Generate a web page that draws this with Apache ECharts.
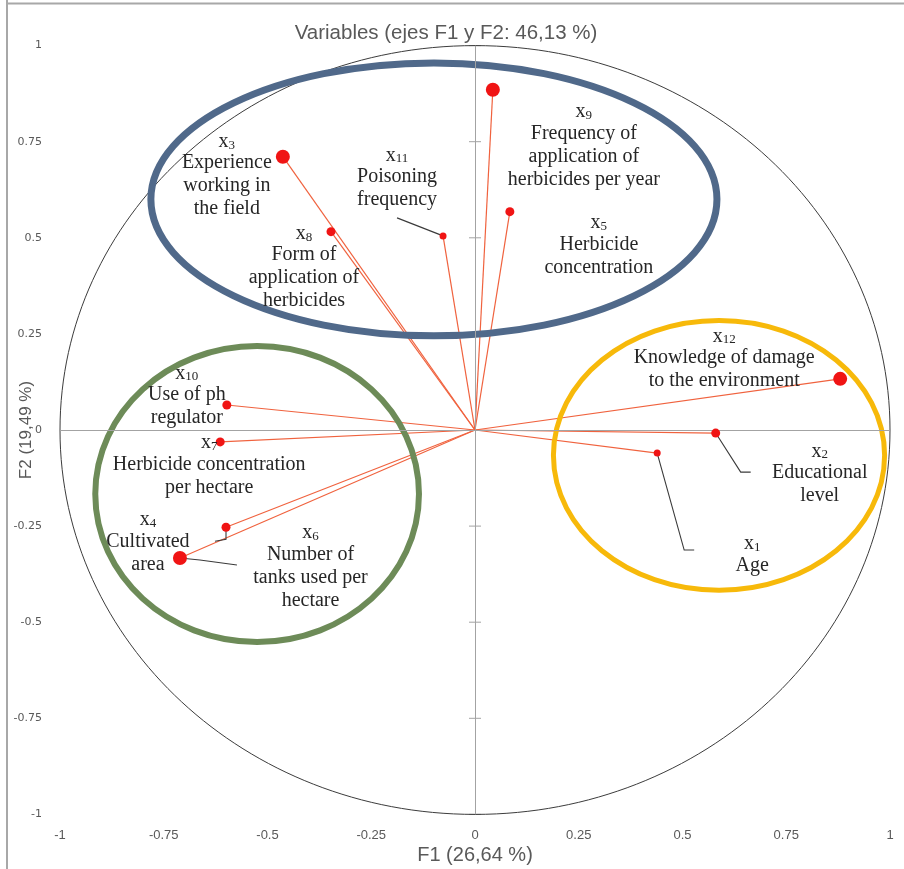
<!DOCTYPE html>
<html>
<head>
<meta charset="utf-8">
<script src="https://cdn.jsdelivr.net/npm/echarts@6/dist/echarts.min.js"></script>
<style>
  html, body { margin: 0; padding: 0; background: #ffffff; }
  #chart { width: 904px; height: 869px; }
</style>
</head>
<body>
<div id="chart"></div>
<script>
// Correlation circle of the PCA: variables projected on F1 and F2
const varIndex = ['1', '2', '3', '4', '5', '6', '7', '8', '9', '10', '11', '12'];
const varNames = [
  'Age',
  'Educational\nlevel',
  'Experience\nworking in\nthe field',
  'Cultivated\narea',
  'Herbicide\nconcentration',
  'Number of\ntanks used per\nhectare',
  'Herbicide concentration\nper hectare',
  'Form of\napplication of\nherbicides',
  'Frequency of\napplication of\nherbicides per year',
  'Use of ph\nregulator',
  'Poisoning\nfrequency',
  'Knowledge of damage\nto the environment'
];
const f1 = [0.439, 0.580, -0.463, -0.711, 0.084, -0.600, -0.614, -0.347, 0.043, -0.598, -0.077, 0.880];
const f2 = [-0.060, -0.008, 0.711, -0.333, 0.568, -0.253, -0.031, 0.516, 0.885, 0.065, 0.505, 0.133];
const tickValues = [-1, -0.75, -0.5, -0.25, 0, 0.25, 0.5, 0.75, 1];

const chartTitle = 'Variables (ejes F1 y F2: 46,13 %)';
const xTitle = 'F1 (26,64 %)';
const yTitle = 'F2 (19,49 %)';

// Group outlines in data units: [centre F1, centre F2, radius F1, radius F2]
const groupEllipses = [
  [-0.099, 0.600, 0.682, 0.355],
  [-0.525, -0.1665, 0.390, 0.385],
  [0.588, -0.066, 0.399, 0.351]
];
const groupColors = ['#50698a', '#6d8b58', '#f7b90a'];
const groupWidths = [7, 6, 5];

// Marker sizes (px) and label placement (px offset from the marker)
const markerSize = [7, 9, 14, 14, 9, 9, 9, 9, 14, 9, 7, 14];
const labelOffset = [
  [95, 102], [104, 41], [-56, 19], [-32, -15.5], [89, 34], [84.5, 39.5],
  [-11, 23.5], [-27, 36], [91, 56], [-40, -9], [-46, -58], [-116, -20]
];
// Leader lines (px offsets from the marker), by variable position
const leaders = {
  0: [[0, 0], [27, 97], [37, 97]],
  1: [[0, 0], [25, 39], [35, 39]],
  3: [[0, 0], [20, 2], [57, 7]],
  5: [[0, 0], [0, 12], [-11, 14]],
  10: [[0, 0], [-46, -18]]
};

const serif = '"Liberation Serif", "Times New Roman", serif';
const sans = '"Liberation Sans", Arial, sans-serif';

const chart = echarts.init(document.getElementById('chart'), null, { renderer: 'canvas' });

const points = f1.map((x, i) => ({
  value: [x, f2[i]],
  symbolSize: markerSize[i],
  label: {
    offset: labelOffset[i],
    formatter: '{x|x}{sub|' + varIndex[i] + '}\n' +
      varNames[i].split('\n').map(s => '{t|' + s + '}').join('\n')
  }
}));

function ellipseItem(stroke, width) {
  return function (params, api) {
    const c = api.coord([api.value(0), api.value(1)]);
    const e = api.coord([api.value(0) + api.value(2), api.value(1) + api.value(3)]);
    return {
      type: 'ellipse',
      shape: { cx: c[0], cy: c[1], rx: Math.abs(e[0] - c[0]), ry: Math.abs(e[1] - c[1]) },
      style: { fill: 'none', stroke: typeof stroke === 'function' ? stroke(params.dataIndex) : stroke, lineWidth: typeof width === 'function' ? width(params.dataIndex) : width }
    };
  };
}

const option = {
  backgroundColor: '#ffffff',
  animation: false,
  title: {
    text: chartTitle,
    left: 441,
    top: 18,
    textAlign: 'center',
    textStyle: { fontFamily: sans, fontSize: 20.5, fontWeight: 'normal', color: '#595959' }
  },
  grid: { left: 60, right: 14, top: 45.6, bottom: 54.6, containLabel: false, outerBoundsMode: 'none' },
  xAxis: {
    type: 'value', min: -1, max: 1, interval: 0.25,
    axisLine: { show: false }, axisTick: { show: false }, splitLine: { show: false },
    axisLabel: { customValues: tickValues, margin: 15, fontFamily: sans, fontSize: 13, color: '#595959' },
    name: xTitle, nameLocation: 'middle', nameGap: 31, nameMoveOverlap: false,
    nameTextStyle: { fontFamily: sans, fontSize: 20, color: '#595959' }
  },
  yAxis: {
    type: 'value', min: -1, max: 1, interval: 0.25,
    axisLine: { show: false }, axisTick: { show: false }, splitLine: { show: false },
    axisLabel: { customValues: tickValues, margin: 18, fontFamily: '"DejaVu Sans", sans-serif', fontSize: 11, color: '#595959' },
    name: yTitle, nameLocation: 'middle', nameGap: 25, nameRotate: 90, nameMoveOverlap: false,
    nameTextStyle: { fontFamily: sans, fontSize: 17, color: '#595959' }
  },
  graphic: [
    { type: 'line', shape: { x1: 7, y1: 0, x2: 7, y2: 869 }, style: { stroke: '#a8a8a8', lineWidth: 2 }, z: 100 },
    { type: 'line', shape: { x1: 6, y1: 3.5, x2: 904, y2: 3.5 }, style: { stroke: '#a8a8a8', lineWidth: 2 }, z: 100 }
  ],
  series: [
    {
      // axes through the origin
      type: 'line', data: [], z: 1, silent: true,
      markLine: {
        silent: true, symbol: 'none', label: { show: false },
        lineStyle: { color: '#a3a3a3', width: 1, type: 'solid' },
        data: [{ xAxis: 0 }, { yAxis: 0 }]
      }
    },
    {
      // tick crosses on the vertical axis
      type: 'custom', z: 2, silent: true,
      data: tickValues.filter(v => v !== 0).map(v => [0, v]),
      renderItem: function (params, api) {
        const p = api.coord([api.value(0), api.value(1)]);
        return { type: 'line', shape: { x1: p[0] - 6, y1: p[1], x2: p[0] + 6, y2: p[1] }, style: { stroke: '#a3a3a3', lineWidth: 1 } };
      }
    },
    {
      // unit correlation circle
      type: 'custom', z: 2, silent: true,
      data: [[0, 0, 1, 1]],
      renderItem: ellipseItem('#3c3c3c', 1)
    },
    {
      // variable vectors from the origin
      type: 'custom', z: 3, silent: true,
      data: points.map(p => p.value),
      renderItem: function (params, api) {
        const o = api.coord([0, 0]);
        const p = api.coord([api.value(0), api.value(1)]);
        return { type: 'line', shape: { x1: o[0], y1: o[1], x2: p[0], y2: p[1] }, style: { stroke: '#f0623e', lineWidth: 1.2 } };
      }
    },
    {
      // group outlines
      type: 'custom', z: 4, silent: true,
      data: groupEllipses,
      renderItem: ellipseItem(i => groupColors[i], i => groupWidths[i])
    },
    {
      // leader lines from markers to labels
      type: 'custom', z: 5, silent: true,
      data: Object.keys(leaders).map(k => [f1[+k], f2[+k], +k]),
      renderItem: function (params, api) {
        const p = api.coord([api.value(0), api.value(1)]);
        const segs = leaders[api.value(2)];
        return {
          type: 'polyline',
          shape: { points: segs.map(s => [p[0] + s[0], p[1] + s[1]]) },
          style: { fill: 'none', stroke: '#3a3a3a', lineWidth: 1.1 }
        };
      }
    },
    {
      type: 'scatter', z: 6, silent: true,
      data: points,
      symbol: 'circle',
      itemStyle: { color: '#f01414', opacity: 1 },
      label: {
        show: true, position: 'inside', align: 'center', verticalAlign: 'middle',
        color: '#262626',
        rich: {
          x: { fontFamily: serif, fontSize: 20, lineHeight: 21, color: '#262626', align: 'center', verticalAlign: 'bottom' },
          sub: { fontFamily: serif, fontSize: 13, lineHeight: 13, color: '#262626', align: 'center', verticalAlign: 'bottom' },
          t: { fontFamily: serif, fontSize: 20, lineHeight: 23, color: '#262626', align: 'center' }
        }
      }
    }
  ]
};

chart.setOption(option);
</script>
</body>
</html>
